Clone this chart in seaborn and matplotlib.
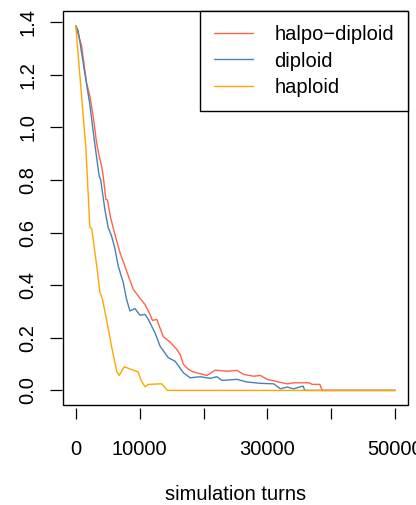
import matplotlib
matplotlib.use("Agg")
import matplotlib.pyplot as plt
import seaborn as sns
import pandas as pd
from matplotlib.patches import Rectangle
from matplotlib.lines import Line2D

# Entropy of the population over simulation turns, per genetic system
hd_turns = [0, 900, 1680, 2200, 2720, 3250, 3660, 4030, 4290, 4710, 4950, 5450,
            6120, 6910, 7950, 9000, 10050, 10830, 11620, 12000, 12670, 13710,
            14750, 15810, 16330, 16850, 17640, 18420, 20520, 21820, 23660, 25230,
            26270, 27840, 28890, 29940, 31240, 33080, 34120, 36470, 37000, 38200,
            38570, 50000]
hd_entropy = [1.386, 1.31, 1.17, 1.119, 1.043, 0.942, 0.891, 0.853, 0.815, 0.726,
              0.724, 0.657, 0.593, 0.524, 0.454, 0.384, 0.35, 0.327, 0.289, 0.266,
              0.27, 0.204, 0.184, 0.156, 0.137, 0.099, 0.08, 0.07, 0.057, 0.077,
              0.073, 0.076, 0.061, 0.054, 0.057, 0.042, 0.035, 0.025, 0.029, 0.029,
              0.023, 0.023, 0.0, 0.0]

dip_turns = [0, 370, 1150, 2200, 2880, 3660, 3900, 4550, 5070, 5600, 6120, 6640,
             7430, 7950, 8480, 9260, 10050, 10830, 11350, 12400, 13190, 14490,
             15540, 16850, 17900, 19470, 21040, 22090, 22870, 25230, 26800, 28890,
             30980, 32030, 33080, 34120, 35170, 35590, 35850, 50000]
dip_entropy = [1.386, 1.367, 1.246, 1.087, 0.954, 0.815, 0.80, 0.688, 0.619, 0.587,
               0.54, 0.473, 0.41, 0.346, 0.302, 0.311, 0.286, 0.289, 0.27, 0.219,
               0.168, 0.124, 0.111, 0.067, 0.048, 0.052, 0.046, 0.052, 0.038, 0.042,
               0.032, 0.027, 0.025, 0.006, 0.013, 0.006, 0.014, 0.016, 0.0, 0.0]

hap_turns = [0, 800, 1570, 2200, 2500, 2900, 3300, 3770, 4190, 5020, 5600, 6120,
             6390, 6800, 7580, 9000, 9780, 10200, 10830, 11350, 13450, 14330, 50000]
hap_entropy = [1.386, 1.15, 0.924, 0.62, 0.615, 0.54, 0.47, 0.373, 0.346, 0.243,
               0.167, 0.106, 0.073, 0.057, 0.090, 0.077, 0.070, 0.039, 0.014, 0.023,
               0.025, 0.0, 0.0]

series_names = ["halpo\u2212diploid", "diploid", "haploid"]
series_colors = ["tomato", "steelblue", "orange"]

x_ticks = [0, 10000, 20000, 30000, 40000, 50000]
x_tick_labels = ["0", "10000", "", "30000", "", "50000"]
y_ticks = [0.0, 0.2, 0.4, 0.6, 0.8, 1.0, 1.2, 1.4]
y_tick_labels = ["0.0", "0.2", "0.4", "0.6", "0.8", "1.0", "1.2", "1.4"]

sns.set_style("white")
plt.rcParams['font.family'] = ['Liberation Sans', 'DejaVu Sans']
plt.rcParams.update({"text.color": "black", "axes.labelcolor": "black",
                     "xtick.color": "black", "ytick.color": "black"})
FS = 14.5

W, H = 416, 505
fig = plt.figure(figsize=(W / 100, H / 100), dpi=100)
left, right, top, bottom = 63, 408, 11, 405
ax = fig.add_axes([left / W, 1 - bottom / H, (right - left) / W, (bottom - top) / H])

frames = [
    pd.DataFrame({"turns": hd_turns, "entropy": hd_entropy}),
    pd.DataFrame({"turns": dip_turns, "entropy": dip_entropy}),
    pd.DataFrame({"turns": hap_turns, "entropy": hap_entropy}),
]
for df, col in zip(frames, series_colors):
    sns.lineplot(data=df, x="turns", y="entropy", ax=ax, color=col, lw=1.0,
                 sort=False, estimator=None)

ax.set_xlim(-2000, 52000)
ax.set_ylim(-0.0554, 1.4418)

for s in ax.spines.values():
    s.set_visible(False)
ax.spines['bottom'].set_position(('outward', 2))
ax.spines['left'].set_position(('outward', 1))
ax.add_patch(Rectangle((0, 0), 1, 1, transform=ax.transAxes, fill=False,
                       ec="black", lw=1.0, clip_on=False, zorder=5))

ax.set_xticks(x_ticks)
ax.set_xticklabels(x_tick_labels, fontsize=FS, color="black")
ax.set_yticks(y_ticks)
ax.set_yticklabels(y_tick_labels, fontsize=FS, rotation=90, va="center",
                   color="black")
ax.tick_params(axis="x", direction="out", length=8, width=0.9, color="black",
               pad=15, bottom=True)
ax.tick_params(axis="y", direction="out", length=8.5, width=0.9, color="black",
               pad=9, left=True)

ax.set_xlabel("simulation turns", fontsize=FS, labelpad=19, color="black")
ax.set_ylabel("")

# legend box in the upper right corner
handles = [Line2D([], [], color=c, lw=1.0) for c in series_colors]
leg = ax.legend(handles, series_names, loc="upper right", bbox_to_anchor=(1, 1),
                borderaxespad=0, frameon=True, fancybox=False, framealpha=1,
                edgecolor="black", fontsize=FS, handlelength=1.95,
                handletextpad=1.05, labelspacing=0.37, borderpad=0.7)
leg.get_frame().set_linewidth(1.0)
for t in leg.get_texts():
    t.set_color("black")

fig.savefig("out.png", dpi=100)
